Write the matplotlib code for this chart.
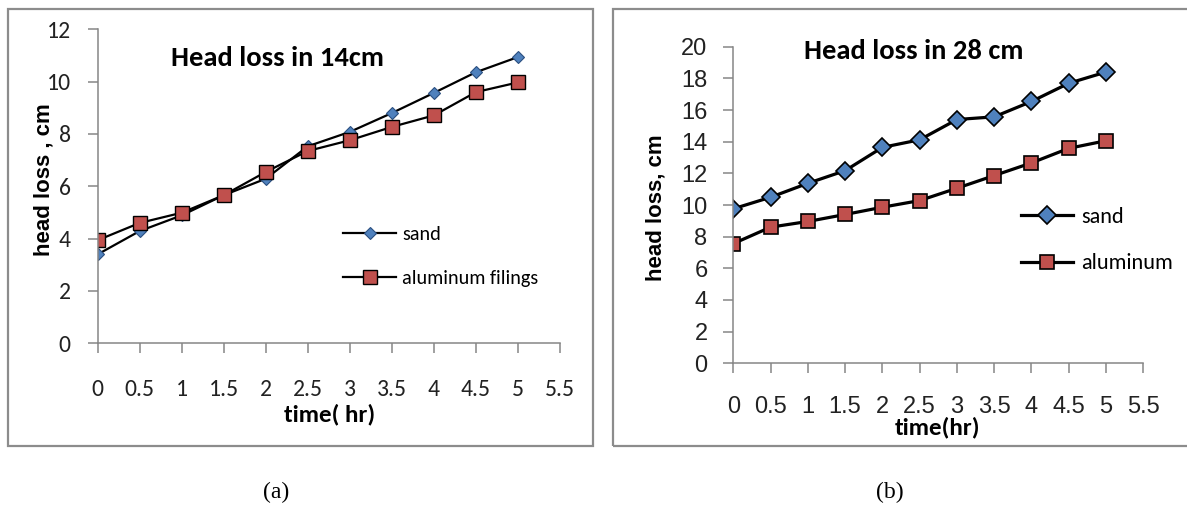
import matplotlib
matplotlib.use('Agg')
import matplotlib.pyplot as plt
from matplotlib.patches import Rectangle

W, H = 1187, 508
DPI = 100

time_hr = [0, 0.5, 1, 1.5, 2, 2.5, 3, 3.5, 4, 4.5, 5]
xticks = [0, 0.5, 1, 1.5, 2, 2.5, 3, 3.5, 4, 4.5, 5, 5.5]
xtick_labels = ['0', '0.5', '1', '1.5', '2', '2.5', '3', '3.5', '4', '4.5', '5', '5.5']

# (a) head loss in 14 cm
sand_14 = [3.40, 4.29, 4.89, 5.66, 6.29, 7.53, 8.08, 8.80, 9.57, 10.36, 10.94]
alum_14 = [3.94, 4.60, 4.99, 5.66, 6.55, 7.35, 7.76, 8.27, 8.71, 9.60, 9.97]

# (b) head loss in 28 cm
sand_28 = [9.76, 10.49, 11.37, 12.17, 13.64, 14.12, 15.40, 15.57, 16.54, 17.69, 18.40]
alum_28 = [7.56, 8.60, 8.96, 9.40, 9.86, 10.28, 11.06, 11.86, 12.66, 13.58, 14.06]

BLUE = '#4f81bd'
RED = '#c0504d'
AXIS_GREY = '#868686'
CALIBRI = ['Carlito', 'Lato', 'DejaVu Sans']
ARIAL = ['Liberation Sans', 'DejaVu Sans']


def fx(px):
    return px / W


def fy(py):
    return 1 - py / H


def add_axes_px(fig, x0, x1, ytop, ybot):
    return fig.add_axes([fx(x0), fy(ybot), fx(x1) - fx(x0), fy(ytop) - fy(ybot)])


def style_axes(ax, ymax, tick_font, tick_size, xpad, ypad):
    for side in ['top', 'right']:
        ax.spines[side].set_visible(False)
    for side in ['left', 'bottom']:
        ax.spines[side].set_color(AXIS_GREY)
        ax.spines[side].set_linewidth(1.1)
    ax.set_xlim(0, 5.5)
    ax.set_ylim(0, ymax)
    ax.set_xticks(xticks)
    ax.set_xticklabels(xtick_labels)
    ax.tick_params(axis='both', direction='out', length=7.5, width=1.1, color=AXIS_GREY)
    ax.tick_params(axis='x', pad=xpad)
    ax.tick_params(axis='y', pad=ypad)
    for lab in ax.get_xticklabels() + ax.get_yticklabels():
        lab.set_fontfamily(tick_font)
        lab.set_fontsize(tick_size)
        lab.set_color('#222222')


def place_labels(ax, xlab_xy, ylab_xy):
    ax.xaxis.set_label_coords(*xlab_xy)
    ax.xaxis.label.set_va('center')
    ax.yaxis.set_label_coords(*ylab_xy)
    ax.yaxis.label.set_va('center')


fig = plt.figure(figsize=(W / DPI, H / DPI), dpi=DPI)

# panel frames
fig.patches.append(Rectangle((fx(8), fy(446)), fx(593) - fx(8), fy(9) - fy(446),
                             transform=fig.transFigure, fill=False, edgecolor='#8c8c8c', linewidth=1.6))
fig.patches.append(Rectangle((fx(613), fy(446)), fx(1190) - fx(613), fy(9) - fy(446),
                             transform=fig.transFigure, fill=False, edgecolor='#8c8c8c', linewidth=1.6))

# ---- (a)
ax1 = add_axes_px(fig, 97.7, 560, 29.3, 343.3)
ax1.plot(time_hr, sand_14, color='black', linewidth=1.6, marker='D', markersize=6,
         markerfacecolor=BLUE, markeredgecolor='#2a4f80', markeredgewidth=0.8, label='sand')
ax1.plot(time_hr, alum_14, color='black', linewidth=1.6, marker='s', markersize=10,
         markerfacecolor=RED, markeredgecolor='black', markeredgewidth=1.0, label='aluminum filings')
ax1.set_yticks(range(0, 13, 2))
style_axes(ax1, 12, CALIBRI, 17, 18, 12)
ax1.text(0.388, 0.909, 'Head loss in 14cm', transform=ax1.transAxes, ha='center', va='center',
         fontsize=20.5, fontweight='bold', family=CALIBRI)
ax1.set_xlabel('time( hr)', fontsize=18, fontweight='bold', family=CALIBRI)
ax1.set_ylabel('head loss , cm', fontsize=16, fontweight='bold', family=ARIAL)
place_labels(ax1, (0.5025, -0.228), (-0.116, 0.52))
ax1.legend(loc='upper left', bbox_to_anchor=(fx(343), fy(226)), bbox_transform=fig.transFigure,
           frameon=False, borderpad=0, borderaxespad=0, handlelength=2.65, handletextpad=0.3,
           labelspacing=1.33, prop={'family': CALIBRI, 'size': 14.5})

# ---- (b)
ax2 = add_axes_px(fig, 733.3, 1143.3, 46.7, 363.3)
ax2.plot(time_hr, sand_28, color='black', linewidth=2.3, marker='D', markersize=9,
         markerfacecolor=BLUE, markeredgecolor='black', markeredgewidth=1.2, label='sand')
ax2.plot(time_hr, alum_28, color='black', linewidth=2.3, marker='s', markersize=9.7,
         markerfacecolor=RED, markeredgecolor='black', markeredgewidth=1.2, label='aluminum')
ax2.set_yticks(range(0, 21, 2))
style_axes(ax2, 20, ARIAL, 17, 16, 11)
ax2.text(0.44, 0.986, 'Head loss in 28 cm', transform=ax2.transAxes, ha='center', va='center',
         fontsize=20.5, fontweight='bold', family=CALIBRI)
ax2.set_xlabel('time(hr)', fontsize=18, fontweight='bold', family=CALIBRI)
ax2.set_ylabel('head loss, cm', fontsize=16, fontweight='bold', family=ARIAL)
place_labels(ax2, (0.499, -0.204), (-0.1885, 0.49))
ax2.legend(loc='upper left', bbox_to_anchor=(fx(1021), fy(207)), bbox_transform=fig.transFigure,
           frameon=False, borderpad=0, borderaxespad=0, handlelength=2.35, handletextpad=0.36,
           labelspacing=1.19, prop={'family': CALIBRI, 'size': 16})

# captions
fig.text(fx(276), fy(492), '(a)', ha='center', va='center', fontsize=17, family='Liberation Serif')
fig.text(fx(890), fy(492), '(b)', ha='center', va='center', fontsize=17, family='Liberation Serif')

fig.savefig('out.png', dpi=DPI)
